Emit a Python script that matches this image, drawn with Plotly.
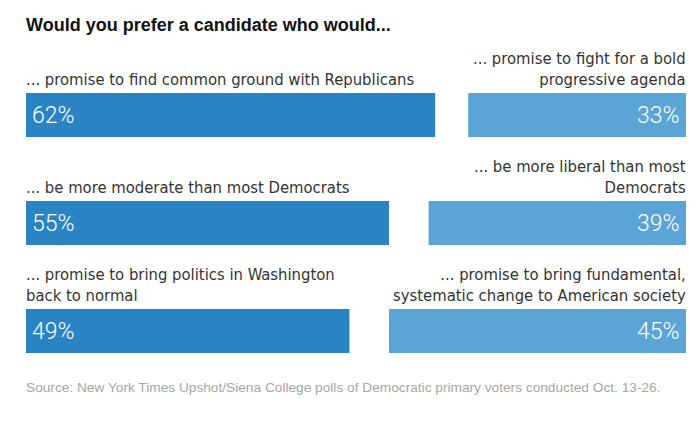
import plotly.graph_objects as go

left_labels = [
    "... promise to find common ground with Republicans",
    "... be more moderate than most Democrats",
    "... promise to bring politics in Washington<br>back to normal",
]
right_labels = [
    "... promise to fight for a bold<br>progressive agenda",
    "... be more liberal than most<br>Democrats",
    "... promise to bring fundamental,<br>systematic change to American society",
]
left_values = [62, 55, 49]
right_values = [33, 39, 45]
rows = [0, 1, 2]

title = "Would you prefer a candidate who would..."
source = "Source: New York Times Upshot/Siena College polls of Democratic primary voters conducted Oct. 13-26."

LEFT_COLOR = "#2a84c4"
RIGHT_COLOR = "#5ba4d6"
LABEL_FONT = "Liberation Sans Narrow, DejaVu Sans Condensed, Arial Narrow, sans-serif"

# page has an 8px body margin; figure is 690x418 placed at (8, 8)
FIG_W, FIG_H = 690, 418
ROW0_CENTER = 107   # px from plot top
ROW_STEP = 108
BAR_W = 44 / ROW_STEP

fig = go.Figure()
fig.add_trace(go.Bar(
    y=rows, x=left_values, base=[0] * len(rows), orientation="h",
    marker=dict(color=LEFT_COLOR, line=dict(width=0)), width=BAR_W,
    hoverinfo="skip", showlegend=False,
))
fig.add_trace(go.Bar(
    y=rows, x=right_values, base=[100 - v for v in right_values], orientation="h",
    marker=dict(color=RIGHT_COLOR, line=dict(width=0)), width=BAR_W,
    hoverinfo="skip", showlegend=False,
))

ann = []
half = BAR_W / 2
for r, lab, v in zip(rows, left_labels, left_values):
    ann.append(dict(x=0, y=r - half, xref="x", yref="y", text=lab, showarrow=False,
                    xanchor="left", yanchor="bottom", align="left", yshift=2, xshift=-2,
                    font=dict(family=LABEL_FONT, size=16.5, color="#333333")))
    ann.append(dict(x=0, y=r, xref="x", yref="y", text=f"{v}%", showarrow=False,
                    xanchor="left", yanchor="middle", xshift=4,
                    font=dict(family="Roboto, sans-serif", size=23, color="white", weight=300)))
for r, lab, v in zip(rows, right_labels, right_values):
    ann.append(dict(x=100, y=r - half, xref="x", yref="y", text=lab, showarrow=False,
                    xanchor="right", yanchor="bottom", align="right", yshift=2, xshift=2,
                    font=dict(family=LABEL_FONT, size=16.5, color="#333333")))
    ann.append(dict(x=100, y=r, xref="x", yref="y", text=f"{v}%", showarrow=False,
                    xanchor="right", yanchor="middle", xshift=-4,
                    font=dict(family="Roboto, sans-serif", size=23, color="white", weight=300)))

ann.append(dict(x=0, y=1 - 5 / FIG_H, xref="paper", yref="paper", xanchor="left", yanchor="top",
                showarrow=False, text=f"<b>{title}</b>", xshift=-2,
                font=dict(family="Liberation Sans, Arial, sans-serif", size=18, color="#121212")))
ann.append(dict(x=0, y=1 - 379 / FIG_H, xref="paper", yref="paper", xanchor="left", yanchor="middle",
                showarrow=False, text=source, xshift=-2,
                font=dict(family="Liberation Sans, Arial, sans-serif", size=13.7, color="#a6a6a6")))

y_top = -ROW0_CENTER / ROW_STEP
y_bot = (FIG_H - ROW0_CENTER) / ROW_STEP

fig.update_layout(
    width=FIG_W, height=FIG_H,
    margin=dict(l=18, r=12, t=0, b=0),
    paper_bgcolor="white", plot_bgcolor="white",
    barmode="overlay",
    xaxis=dict(range=[0, 100], visible=False, fixedrange=True),
    yaxis=dict(range=[y_bot, y_top], visible=False, fixedrange=True),
    annotations=ann,
)

fig.write_html("out.html")
